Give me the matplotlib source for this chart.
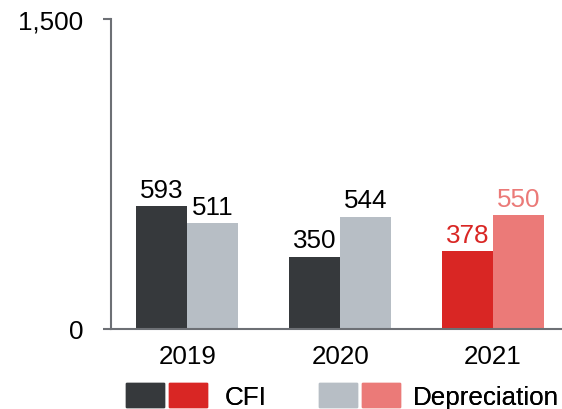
import matplotlib
matplotlib.use("Agg")
import matplotlib.pyplot as plt
from matplotlib.patches import Patch
from matplotlib.legend_handler import HandlerTuple
import numpy as np

plt.rcParams['font.family'] = ['Liberation Sans', 'DejaVu Sans']

years = ["2019", "2020", "2021"]
cfi = [593, 350, 378]
depreciation = [511, 544, 550]
cfi_colors = ["#36393c", "#36393c", "#d92624"]
dep_colors = ["#b7bec5", "#b7bec5", "#eb7a78"]
cfi_label_colors = ["#000000", "#000000", "#d92624"]
dep_label_colors = ["#000000", "#000000", "#eb7a78"]
yticks = [0, 1500]
ytick_labels = ["0", "1,500"]

FS = 18.7
fig = plt.figure(figsize=(5.62, 4.10), dpi=100)
ax = fig.add_axes([111/562, 80/410, 451/562, 310/410])

x = np.arange(len(years))
w = 1/3
b1 = ax.bar(x - w/2, cfi, w, color=cfi_colors)
b2 = ax.bar(x + w/2, depreciation, w, color=dep_colors)

for bars, vals, cols in [(b1, cfi, cfi_label_colors), (b2, depreciation, dep_label_colors)]:
    for r, v, c in zip(bars, vals, cols):
        ax.annotate(f"{v}", (r.get_x() + r.get_width()/2, v), xytext=(0, 3),
                    textcoords="offset points", ha="center", va="bottom",
                    fontsize=FS, color=c)

ax.set_xlim(-0.5, (562 - 187) / 153)
ax.set_ylim(0, 1500)
ax.set_yticks(yticks)
ax.set_yticklabels(ytick_labels)
ax.set_xticks(x)
ax.set_xticklabels(years)

spine_c = "#6d7075"
for s in ["top", "right"]:
    ax.spines[s].set_visible(False)
for s in ["left", "bottom"]:
    ax.spines[s].set_color(spine_c)
    ax.spines[s].set_linewidth(1.5)
ax.tick_params(axis="y", length=6, width=1.5, color=spine_c, pad=14, labelsize=FS)
ax.tick_params(axis="x", length=0, pad=11, labelsize=FS)

fs_px = FS * 100 / 72
entries = [
    ((Patch(color=cfi_colors[0]), Patch(color=cfi_colors[2])), "CFI", 126, 18),
    ((Patch(color=dep_colors[0]), Patch(color=dep_colors[2])), "Depreciation", 319, 13),
]
for handle, label, left_px, tpad in entries:
    lg = fig.legend([handle], [label],
                    handler_map={tuple: HandlerTuple(ndivide=None, pad=5/fs_px)},
                    loc="center left", bbox_to_anchor=(left_px/562, 1 - 397/410),
                    frameon=False, fontsize=FS, borderpad=0, borderaxespad=0,
                    handlelength=81/fs_px, handleheight=27/fs_px,
                    handletextpad=tpad/fs_px)
    fig.add_artist(lg)

fig.savefig("out.png", dpi=100)
